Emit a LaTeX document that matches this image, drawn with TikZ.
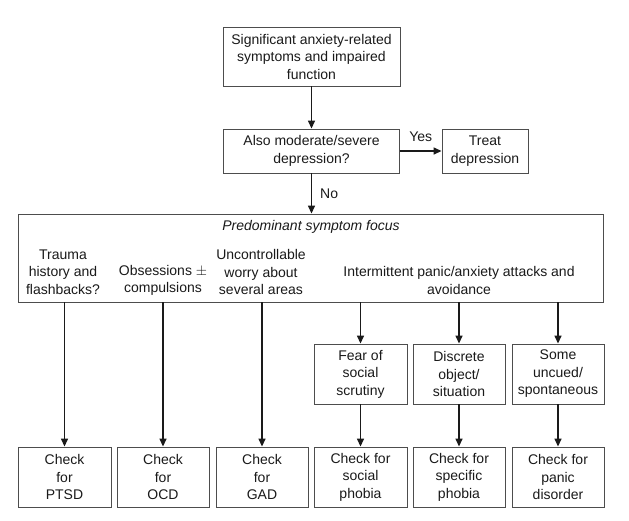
\documentclass[tikz,border=0pt]{standalone}
\usepackage{fontspec}
\setmainfont{Liberation Sans}
\usetikzlibrary{arrows.meta}
\definecolor{ink}{HTML}{1A1A1A}
\definecolor{boxline}{HTML}{4D4D4D}
\begin{document}
\begin{tikzpicture}[x=1pt,y=-1pt,
  every node/.style={font=\fontsize{14}{17.5}\selectfont, text=ink},
  box/.style={draw=boxline, line width=0.9pt, rectangle, align=center, inner sep=0pt},
  txt/.style={align=center, inner sep=0pt},
  arr/.style={draw=ink, line width=1.4pt, -{Triangle[length=8pt,width=7pt]}},
  lbl/.style={inner sep=0pt}]
\useasboundingbox (0,0) rectangle (629,520);
\fill[white] (0,0) rectangle (629,520);
% top
\node[box, minimum width=177pt, minimum height=59pt] (top) at (311.5,56.5)
  {Significant anxiety-related\\symptoms and impaired\\function};
\node[box, minimum width=176pt, minimum height=44pt] (dep) at (311.5,151)
  {Also moderate/severe\\depression?};
\node[box, minimum width=86pt, minimum height=44pt] (treat) at (485,151)
  {Treat\\depression};
\node[box, minimum width=585pt, minimum height=88pt] (big) at (310.5,258) {};
\node[txt, font=\fontsize{14}{17.5}\selectfont\itshape] (focus) at (311,227) {Predominant symptom focus};
\node[txt] (c1) at (63,272) {Trauma\\history and\\flashbacks?};
\node[txt] (c2) at (163,280.5) {Obsessions $\pm$\\compulsions};
\node[txt] (c3) at (261,272) {Uncontrollable\\worry about\\several areas};
\node[txt] (c4) at (459,280.5) {Intermittent panic/anxiety attacks and\\avoidance};
% middle boxes
\node[box, minimum width=93pt, minimum height=60pt] (m1) at (360.5,374) {Fear of\\social\\scrutiny};
\node[box, minimum width=92pt, minimum height=60pt] (m2) at (459,374) {Discrete\\object/\\situation};
\node[box, minimum width=92pt, minimum height=60pt] (m3) at (558,374) {Some\\uncued/\\spontaneous};
% bottom boxes
\node[box, minimum width=93pt, minimum height=60pt] (b1) at (64.5,477) {Check\\for\\PTSD};
\node[box, minimum width=92pt, minimum height=60pt] (b2) at (163,477) {Check\\for\\OCD};
\node[box, minimum width=92pt, minimum height=60pt] (b3) at (262,477) {Check\\for\\GAD};
\node[box, minimum width=93pt, minimum height=60pt] (b4) at (360.5,477) {Check for\\social\\phobia};
\node[box, minimum width=92pt, minimum height=60pt] (b5) at (459,477) {Check for\\specific\\phobia};
\node[box, minimum width=92pt, minimum height=60pt] (b6) at (558,477) {Check for\\panic\\disorder};
% connectors
\draw[arr] (top) -- (dep);
\draw[arr] (dep) -- (treat) node[midway, above=9pt, lbl] (yes) {Yes};
\draw[arr] (dep) -- (big.north -| dep.south) node[midway, right=8pt, lbl] (no) {No};
\draw[arr] (big.south -| b1.north) -- (b1);
\draw[arr] (big.south -| b2.north) -- (b2);
\draw[arr] (big.south -| b3.north) -- (b3);
\draw[arr] (big.south -| m1.north) -- (m1);
\draw[arr] (big.south -| m2.north) -- (m2);
\draw[arr] (big.south -| m3.north) -- (m3);
\draw[arr] (m1) -- (b4);
\draw[arr] (m2) -- (b5);
\draw[arr] (m3) -- (b6);
\end{tikzpicture}
\end{document}
